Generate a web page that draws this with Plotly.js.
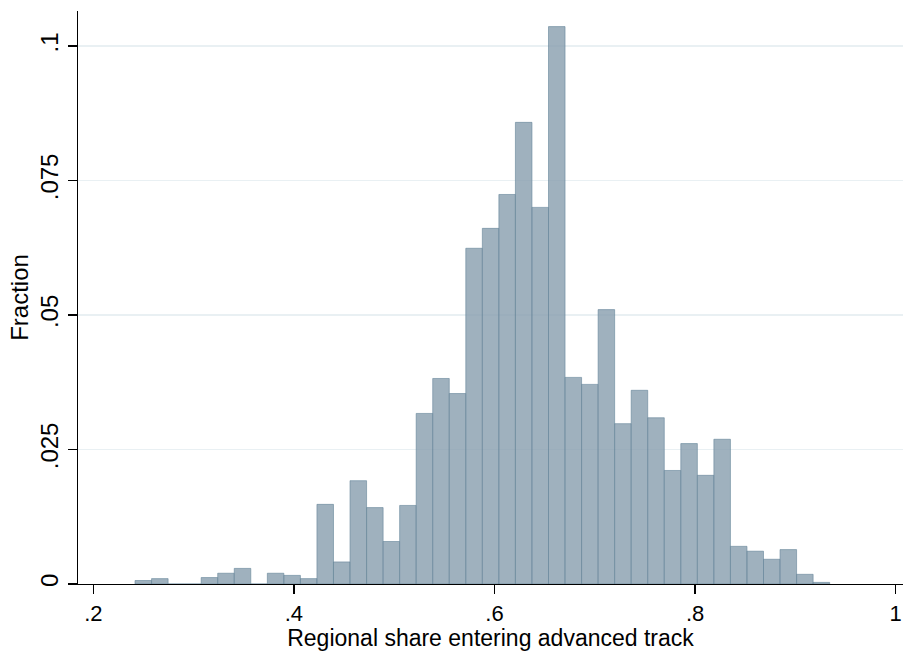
<!DOCTYPE html>
<html>
<head>
<meta charset="utf-8">
<script src="https://cdn.plot.ly/plotly-3.0.1.min.js"></script>
<style>html,body{margin:0;padding:0;background:#fff;}#chart{width:904px;height:651px;}</style>
</head>
<body>
<div id="chart"></div>
<script>
// Histogram bins (fraction per bin)
var binStart = 0.2416;
var binWidth = 0.01649;
var fractions = [
  0.00065, 0.0010, 0.0, 0.0, 0.0012, 0.0020, 0.0029, 0.0, 0.0020, 0.0016,
  0.0010, 0.0148, 0.0041, 0.0192, 0.0142, 0.0079, 0.0146, 0.0317, 0.0382, 0.0354,
  0.0624, 0.0661, 0.0724, 0.0858, 0.0700, 0.1036, 0.0384, 0.0371, 0.0510, 0.0298,
  0.0360, 0.0309, 0.0211, 0.0261, 0.0202, 0.0269, 0.0070, 0.0061, 0.0046, 0.0064,
  0.0018, 0.0003
];
var xTickVals = [0.2, 0.4, 0.6, 0.8, 1];
var xTickText = [".2", ".4", ".6", ".8", "1"];
var yTickVals = [0, 0.025, 0.05, 0.075, 0.1];
var yTickText = ["0", ".025", ".05", ".075", ".1"];

var centers = fractions.map(function(_, i){ return binStart + binWidth * (i + 0.5); });

var trace = {
  type: 'bar',
  x: centers,
  y: fractions,
  width: binWidth,
  marker: {
    color: 'rgba(135,158,174,0.8)',
    line: {color: 'rgba(100,132,152,0.85)', width: 0.7}
  },
  hoverinfo: 'x+y'
};

var font = "Liberation Sans, Arial, Helvetica, sans-serif";
var layout = {
  width: 904, height: 651,
  margin: {l: 78, r: 1, t: 11, b: 67, pad: 0},
  paper_bgcolor: '#ffffff', plot_bgcolor: '#ffffff',
  showlegend: false,
  bargap: 0,
  font: {family: font, color: '#000', size: 22},
  xaxis: {
    range: [0.18475, 1.0073],
    tickmode: 'array', tickvals: xTickVals, ticktext: xTickText,
    ticks: 'outside', ticklen: 9, tickwidth: 1.3, tickcolor: '#000',
    showline: true, linecolor: '#000', linewidth: 1.3,
    showgrid: false, zeroline: false,
    tickfont: {family: font, size: 22, color: '#000'},
    title: {text: 'Regional share entering advanced track', font: {family: font, size: 23, color: '#000'}, standoff: 3}
  },
  yaxis: {
    range: [0, 0.1065],
    tickmode: 'array', tickvals: yTickVals, ticktext: yTickText,
    ticks: 'outside', ticklen: 9, tickwidth: 1.3, tickcolor: '#000',
    tickangle: -90,
    showline: true, linecolor: '#000', linewidth: 1.3,
    showgrid: true, gridcolor: '#e9f0f3', gridwidth: 1.3,
    zeroline: false,
    tickfont: {family: font, size: 24, color: '#000'},
    title: {text: 'Fraction', font: {family: font, size: 24, color: '#000'}, standoff: 0}
  }
};

Plotly.newPlot('chart', [trace], layout, {displayModeBar: false, staticPlot: true});
</script>
</body>
</html>
